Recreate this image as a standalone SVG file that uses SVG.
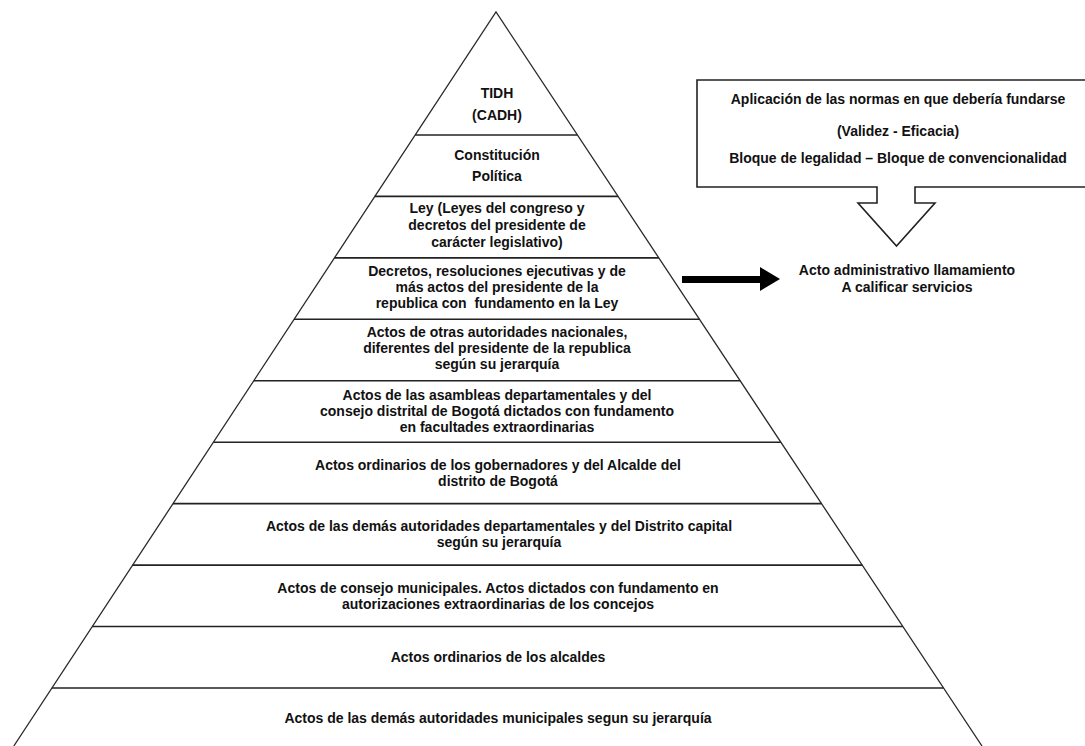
<svg xmlns="http://www.w3.org/2000/svg" width="1085" height="746" viewBox="0 0 1085 746">
<style>
.t{font-family:"Liberation Sans",Arial,sans-serif;font-weight:bold;font-size:14px;fill:#111;text-anchor:middle;white-space:pre}
.ln{stroke:#222;stroke-width:1.6;fill:none}
.ed{stroke:#2a2a2a;stroke-width:1.3;fill:none}
</style>
<rect width="1085" height="746" fill="#fff"/>
<g id="pyramid-outline"><path class="ed" d="M13.8,746 L496,12 L982,746"/></g>
<g id="level-tidh"><text class="t" x="497" y="98">TIDH</text><text class="t" x="497" y="120">(CADH)</text></g>
<g id="level-constitucion"><line class="ln" x1="415.2" y1="135" x2="577.4" y2="135"/><text class="t" x="497" y="160">Constitución</text><text class="t" x="497" y="181">Política</text></g>
<g id="level-ley"><line class="ln" x1="374.8" y1="196.4" x2="618.1" y2="196.4"/><text class="t" x="497" y="213">Ley (Leyes del congreso y</text><text class="t" x="497" y="230">decretos del presidente de</text><text class="t" x="497" y="247">carácter legislativo)</text></g>
<g id="level-decretos"><line class="ln" x1="334.4" y1="257.9" x2="658.8" y2="257.9"/><text class="t" x="497" y="276">Decretos, resoluciones ejecutivas y de</text><text class="t" x="497" y="292">más actos del presidente de la</text><text class="t" x="497" y="308">republica con  fundamento en la Ley</text></g>
<g id="level-otras"><line class="ln" x1="294.1" y1="319.3" x2="699.4" y2="319.3"/><text class="t" x="497" y="337">Actos de otras autoridades nacionales,</text><text class="t" x="497" y="353">diferentes del presidente de la republica</text><text class="t" x="497" y="369">según su jerarquía</text></g>
<g id="level-asambleas"><line class="ln" x1="253.7" y1="380.8" x2="740.1" y2="380.8"/><text class="t" x="497" y="400">Actos de las asambleas departamentales y del</text><text class="t" x="497" y="416">consejo distrital de Bogotá dictados con fundamento</text><text class="t" x="497" y="432">en facultades extraordinarias</text></g>
<g id="level-gobernadores"><line class="ln" x1="213.4" y1="442.2" x2="780.8" y2="442.2"/><text class="t" x="498" y="470">Actos ordinarios de los gobernadores y del Alcalde del</text><text class="t" x="498" y="486">distrito de Bogotá</text></g>
<g id="level-departamentales"><line class="ln" x1="173" y1="503.6" x2="821.4" y2="503.6"/><text class="t" x="499" y="531">Actos de las demás autoridades departamentales y del Distrito capital</text><text class="t" x="499" y="547">según su jerarquía</text></g>
<g id="level-concejos"><line class="ln" x1="132.6" y1="565.1" x2="862.2" y2="565.1"/><text class="t" x="498" y="593">Actos de consejo municipales. Actos dictados con fundamento en</text><text class="t" x="498" y="609">autorizaciones extraordinarias de los concejos</text></g>
<g id="level-alcaldes"><line class="ln" x1="92.3" y1="626.5" x2="902.8" y2="626.5"/><text class="t" x="498" y="662">Actos ordinarios de los alcaldes</text></g>
<g id="level-municipales"><line class="ln" x1="51.9" y1="688" x2="943.5" y2="688"/><text class="t" x="498" y="723">Actos de las demás autoridades municipales segun su jerarquía</text></g>
<g id="callout"><path class="ln" d="M697,80 H1090 V187 H915 V203 H935 L896.5,246 L858,203 H877 V187 H697 Z" fill="#fff"/><text class="t" x="898" y="104">Aplicación de las normas en que debería fundarse</text><text class="t" x="898" y="136">(Validez - Eficacia)</text><text class="t" x="898" y="163">Bloque de legalidad – Bloque de convencionalidad</text></g>
<g id="acto-administrativo"><text class="t" x="907" y="275">Acto administrativo llamamiento</text><text class="t" x="907" y="292">A calificar servicios</text></g>
<g id="connectors"><path d="M682,276 H760 V267 L780,279 L760,291 V283 H682 Z" fill="#000"/></g>
</svg>
